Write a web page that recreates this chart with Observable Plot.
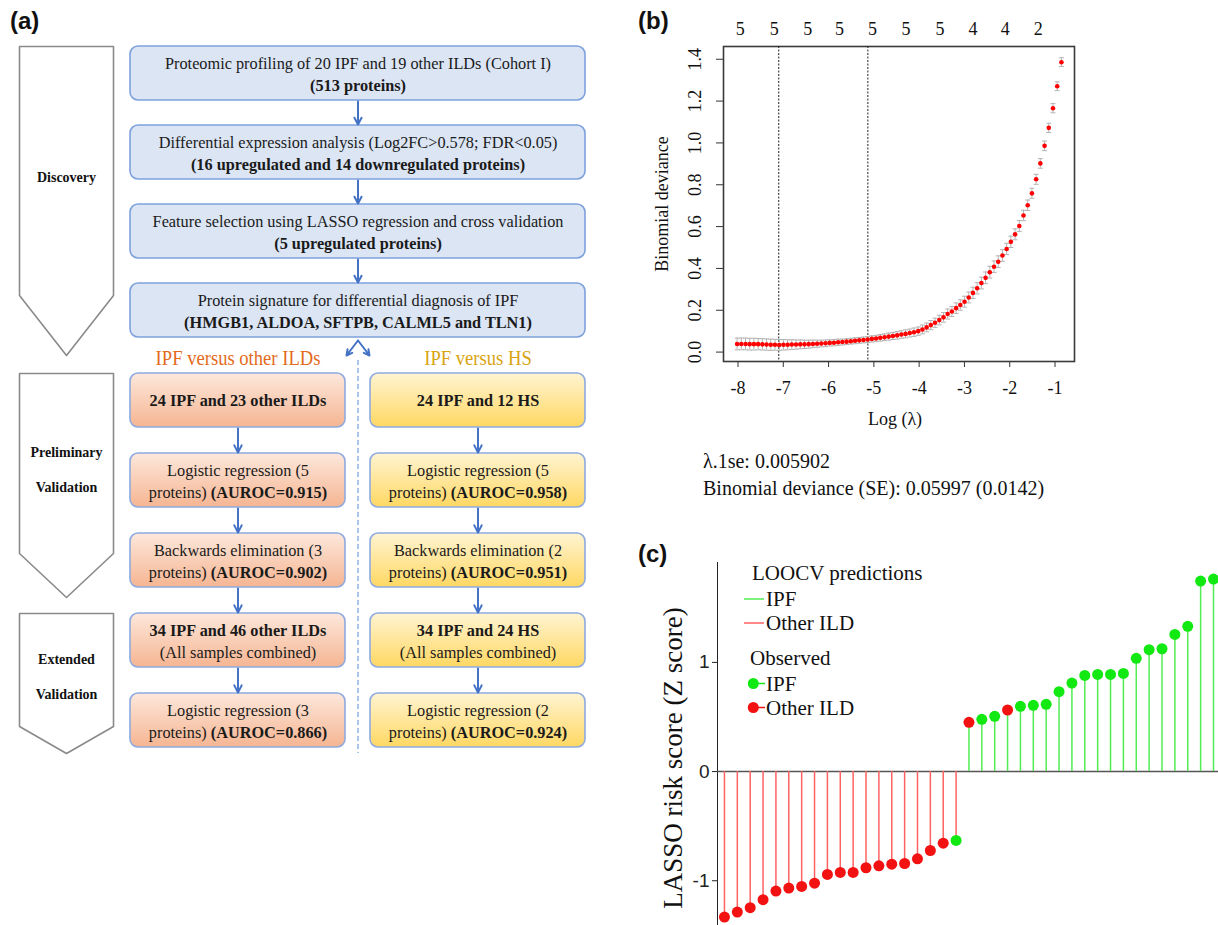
<!DOCTYPE html>
<html>
<head>
<meta charset="utf-8">
<script src="https://cdn.jsdelivr.net/npm/d3@7"></script>
<script src="https://cdn.jsdelivr.net/npm/@observablehq/plot@0.6"></script>
<style>
  html, body { margin: 0; padding: 0; background: #fff; }
  #root { position: relative; width: 1218px; height: 925px; overflow: hidden; background: #fff; }
  .abs { position: absolute; white-space: nowrap; }
  .plab { font-family: "Liberation Sans", Arial, sans-serif; font-weight: bold; font-size: 24px; line-height: 24px; color: #111; }
  .serif20 { font-family: "Liberation Serif", "Times New Roman", serif; font-size: 20px; line-height: 20px; color: #111; }
  .leg { font-family: "Liberation Serif", "Times New Roman", serif; font-size: 21px; line-height: 18px; color: #111; }
  .plotbox { position: absolute; }
  .plotbox svg { background: transparent !important; max-width: none !important; }
</style>
</head>
<body>
<svg width="0" height="0" style="position:absolute">
  <defs>
    <linearGradient id="gOrange" x1="0" y1="0" x2="0" y2="1">
      <stop offset="0" stop-color="#fde8dc"/>
      <stop offset="1" stop-color="#f5b592"/>
    </linearGradient>
    <linearGradient id="gYellow" x1="0" y1="0" x2="0" y2="1">
      <stop offset="0" stop-color="#fff4d2"/>
      <stop offset="1" stop-color="#ffd863"/>
    </linearGradient>
  </defs>
</svg>
<div id="root"></div>
<script>
// ================= Panel (a) data: flowchart content =================
const stageLabels = ["Discovery", "Preliminary\nValidation", "Extended\nValidation"];
const discoverySteps = [
  ["Proteomic profiling of 20 IPF and 19 other ILDs (Cohort I)", "**(513 proteins)**"],
  ["Differential expression analysis (Log2FC>0.578; FDR<0.05)", "**(16 upregulated and 14 downregulated proteins)**"],
  ["Feature selection using LASSO regression and cross validation", "**(5 upregulated proteins)**"],
  ["Protein signature for differential diagnosis of IPF", "**(HMGB1, ALDOA, SFTPB, CALML5 and TLN1)**"]
];
const comparisonTitles = ["IPF versus other ILDs", "IPF versus HS"];
const ildSteps = [
  ["**24 IPF and 23 other ILDs**"],
  ["Logistic regression (5", "proteins) **(AUROC=0.915)**"],
  ["Backwards elimination (3", "proteins) **(AUROC=0.902)**"],
  ["**34 IPF and 46 other ILDs**", "(All samples combined)"],
  ["Logistic regression (3", "proteins) **(AUROC=0.866)**"]
];
const hsSteps = [
  ["**24 IPF and 12 HS**"],
  ["Logistic regression (5", "proteins) **(AUROC=0.958)**"],
  ["Backwards elimination (2", "proteins) **(AUROC=0.951)**"],
  ["**34 IPF and 24 HS**", "(All samples combined)"],
  ["Logistic regression (2", "proteins) **(AUROC=0.924)**"]
];

// ================= Panel (b) data: LASSO cross-validation curve =================
const logLambda = [
  -8.020,-7.927,-7.834,-7.741,-7.648,-7.555,-7.462,-7.369,-7.276,-7.183,
  -7.090,-6.997,-6.904,-6.811,-6.718,-6.625,-6.532,-6.439,-6.346,-6.253,
  -6.160,-6.067,-5.974,-5.881,-5.788,-5.695,-5.602,-5.509,-5.416,-5.323,
  -5.230,-5.137,-5.044,-4.951,-4.858,-4.765,-4.672,-4.579,-4.486,-4.393,
  -4.300,-4.207,-4.114,-4.021,-3.928,-3.835,-3.742,-3.649,-3.556,-3.463,
  -3.370,-3.277,-3.184,-3.091,-2.998,-2.905,-2.812,-2.719,-2.626,-2.533,
  -2.440,-2.347,-2.254,-2.161,-2.068,-1.975,-1.882,-1.789,-1.696,-1.603,
  -1.510,-1.417,-1.324,-1.231,-1.138,-1.045,-0.952,-0.859
];
const binomialDeviance = [
  0.039,0.039,0.039,0.038,0.038,0.038,0.037,0.036,0.035,0.035,
  0.034,0.035,0.035,0.036,0.036,0.037,0.037,0.038,0.039,0.040,
  0.041,0.042,0.044,0.045,0.047,0.048,0.050,0.052,0.054,0.056,
  0.058,0.060,0.063,0.065,0.068,0.071,0.074,0.077,0.080,0.084,
  0.087,0.091,0.095,0.100,0.108,0.118,0.129,0.140,0.153,0.166,
  0.182,0.194,0.210,0.225,0.241,0.261,0.283,0.305,0.330,0.355,
  0.382,0.408,0.432,0.462,0.493,0.527,0.563,0.603,0.653,0.702,
  0.759,0.826,0.902,0.986,1.072,1.166,1.271,1.386
];
const devianceSE = [
  0.028,0.028,0.028,0.028,0.028,0.027,0.027,0.027,0.027,0.026,
  0.026,0.025,0.024,0.023,0.022,0.021,0.020,0.019,0.018,0.017,
  0.016,0.016,0.015,0.015,0.015,0.014,0.014,0.014,0.014,0.014,
  0.014,0.0142,0.015,0.015,0.016,0.016,0.017,0.017,0.018,0.018,
  0.019,0.019,0.020,0.020,0.021,0.021,0.022,0.022,0.023,0.023,
  0.024,0.024,0.025,0.025,0.026,0.026,0.027,0.027,0.028,0.028,
  0.028,0.028,0.028,0.028,0.027,0.027,0.026,0.026,0.025,0.025,
  0.024,0.024,0.023,0.023,0.022,0.022,0.021,0.021
];
const xTicksB = [-8, -7, -6, -5, -4, -3, -2, -1];
const yTicksB = [0.0, 0.2, 0.4, 0.6, 0.8, 1.0, 1.2, 1.4];
const nonzeroPos = [-7.95, -7.20, -6.46, -5.76, -5.03, -4.29, -3.54, -2.81, -2.10, -1.37];
const nonzeroCount = [5, 5, 5, 5, 5, 5, 5, 4, 4, 2];
const lambdaMinLog = -7.10;
const lambda1se = 0.005902;
const lambdaText = ["λ.1se: 0.005902", "Binomial deviance (SE): 0.05997 (0.0142)"];

// ================= Panel (c) data: LOOCV risk scores =================
const riskScore = [
  -1.333,-1.287,-1.247,-1.174,-1.095,-1.067,-1.052,-1.022,-0.942,-0.924,
  -0.924,-0.881,-0.863,-0.848,-0.842,-0.799,-0.723,-0.656,-0.631,
   0.451, 0.479, 0.506, 0.564, 0.598, 0.607, 0.616, 0.732, 0.811, 0.881,
   0.890, 0.890, 0.899, 1.037, 1.116, 1.125, 1.256, 1.330, 1.745, 1.763
];
const observedClass = [
  "Other ILD","Other ILD","Other ILD","Other ILD","Other ILD","Other ILD","Other ILD","Other ILD","Other ILD","Other ILD",
  "Other ILD","Other ILD","Other ILD","Other ILD","Other ILD","Other ILD","Other ILD","Other ILD","IPF",
  "Other ILD","IPF","IPF","Other ILD","IPF","IPF","IPF","IPF","IPF","IPF",
  "IPF","IPF","IPF","IPF","IPF","IPF","IPF","IPF","IPF","IPF"
];
const yTicksC = [-1, 0, 1];
const classColors = {"IPF": "#12e812", "Other ILD": "#f31212"};
const stemColors = {"IPF": "#52ec52", "Other ILD": "#ff6262"};

// ================= helpers =================
const SERIF = "'Liberation Serif', 'Times New Roman', serif";
const SANS = "'Liberation Sans', Arial, sans-serif";
const root = document.getElementById("root");
function place(node, left, top) {
  const d = document.createElement("div");
  d.className = "plotbox";
  d.style.left = left + "px";
  d.style.top = top + "px";
  d.appendChild(node);
  root.appendChild(d);
  return d;
}
function addText(txt, cls, left, top) {
  const d = document.createElement("div");
  d.className = "abs " + cls;
  d.style.left = left + "px";
  d.style.top = top + "px";
  d.textContent = txt;
  root.appendChild(d);
  return d;
}
function richify(svg) {
  svg.querySelectorAll("text").forEach(el => {
    if (el.querySelector("tspan")) return;
    const s = el.textContent;
    if (!s.includes("**")) return;
    el.textContent = "";
    s.split("**").forEach((part, k) => {
      if (!part) return;
      const ts = document.createElementNS("http://www.w3.org/2000/svg", "tspan");
      if (k % 2 === 1) ts.setAttribute("font-weight", "bold");
      ts.textContent = part;
      el.appendChild(ts);
    });
  });
}
// horizontally condense texts (the original figure uses a narrow serif face); must run once in the DOM
function condense(svg, sx, skip) {
  svg.querySelectorAll("text").forEach(el => {
    if (skip.has(el.textContent)) return;
    const len = el.getComputedTextLength();
    if (!(len > 0)) return;
    el.setAttribute("textLength", (len * sx).toFixed(2));
    el.setAttribute("lengthAdjust", "spacingAndGlyphs");
  });
}

// ================= Panel (a): flowchart =================
const LA = {
  W: 640, H: 800,
  blueX: [130, 585], cols: [[130, 345], [370, 585]],
  blueTop: 46, blueStep: 79, colTop: 373, colStep: 80, boxH: 54,
  chevX: [19, 113],
  stages: [{top: 46, side: 295, tip: 355}, {top: 373, side: 553, tip: 597}, {top: 613, side: 726, tip: 753}],
  headerY: 358, splitTop: 340, splitBottom: 355, splitDx: 11.5, dashTop: 360, dashBottom: 753
};
const mid = a => (a[0] + a[1]) / 2;
const lineOffsets = n => n === 1 ? [0] : [-10.5, 11.5];

const blueBoxes = discoverySteps.map((lines, i) => ({
  x1: LA.blueX[0], x2: LA.blueX[1], y1: LA.blueTop + i * LA.blueStep, y2: LA.blueTop + i * LA.blueStep + LA.boxH, lines
}));
const colBoxes = [ildSteps, hsSteps].flatMap((steps, c) => steps.map((lines, j) => ({
  c, x1: LA.cols[c][0], x2: LA.cols[c][1], y1: LA.colTop + j * LA.colStep, y2: LA.colTop + j * LA.colStep + LA.boxH, lines
})));
const boxTexts = [...blueBoxes, ...colBoxes].flatMap(b => {
  const offs = lineOffsets(b.lines.length);
  const cy = (b.y1 + b.y2) / 2;
  return b.lines.map((t, k) => ({x: (b.x1 + b.x2) / 2, y: cy + offs[k], t}));
});
const arrowsA = [];
for (let i = 0; i < blueBoxes.length - 1; i++) {
  arrowsA.push({x1: mid(LA.blueX), y1: blueBoxes[i].y2 + 1, x2: mid(LA.blueX), y2: blueBoxes[i + 1].y1 - 1});
}
for (let c = 0; c < 2; c++) {
  const bs = colBoxes.filter(b => b.c === c);
  for (let j = 0; j < bs.length - 1; j++) {
    arrowsA.push({x1: mid(LA.cols[c]), y1: bs[j].y2 + 1, x2: mid(LA.cols[c]), y2: bs[j + 1].y1 - 1});
  }
}
arrowsA.push({x1: mid(LA.blueX), y1: LA.splitTop, x2: mid(LA.blueX) - LA.splitDx, y2: LA.splitBottom});
arrowsA.push({x1: mid(LA.blueX), y1: LA.splitTop, x2: mid(LA.blueX) + LA.splitDx, y2: LA.splitBottom});

const chevronPts = LA.stages.flatMap((s, k) => {
  const [a, b] = LA.chevX, m = (a + b) / 2;
  return [[a, s.top], [b, s.top], [b, s.side], [m, s.tip], [a, s.side], [a, s.top]].map(([x, y]) => ({x, y, k}));
});
const stageTexts = stageLabels.map((t, k) => ({t, x: mid(LA.chevX), y: (LA.stages[k].top + LA.stages[k].side) / 2}));

const plotA = Plot.plot({
  width: LA.W, height: LA.H, margin: 0,
  x: {domain: [0, LA.W], range: [0, LA.W], axis: null},
  y: {domain: [0, LA.H], range: [0, LA.H], axis: null},
  style: {fontFamily: SERIF, fontSize: "17.5px", color: "#1a1a1a", background: "transparent", overflow: "visible"},
  marks: [
    Plot.line(chevronPts, {x: "x", y: "y", z: "k", fill: "white", stroke: "#8a8a8a", strokeWidth: 1.6, curve: "linear"}),
    Plot.text(stageTexts, {x: "x", y: "y", text: "t", fontSize: 14, fontWeight: "bold", lineHeight: 2.5, fill: "#111", fontFamily: SERIF, textAnchor: "middle", lineAnchor: "middle"}),
    Plot.ruleX([0], {x: () => mid(LA.blueX), y1: () => LA.dashTop, y2: () => LA.dashBottom, stroke: "#5b8bd8", strokeWidth: 1, strokeDasharray: "5,3"}),
    Plot.rect(blueBoxes, {x1: "x1", x2: "x2", y1: "y1", y2: "y2", rx: 8, fill: "#dbe5f4", stroke: "#7ea1dc", strokeWidth: 1.6}),
    Plot.rect(colBoxes.filter(b => b.c === 0), {x1: "x1", x2: "x2", y1: "y1", y2: "y2", rx: 8, fill: "url(#gOrange)", stroke: "#8eaadf", strokeWidth: 1.6}),
    Plot.rect(colBoxes.filter(b => b.c === 1), {x1: "x1", x2: "x2", y1: "y1", y2: "y2", rx: 8, fill: "url(#gYellow)", stroke: "#8eaadf", strokeWidth: 1.6}),
    Plot.arrow(arrowsA, {x1: "x1", y1: "y1", x2: "x2", y2: "y2", stroke: "#4472c4", strokeWidth: 2, headLength: 8, headAngle: 55}),
    Plot.text([comparisonTitles[0]], {x: () => mid(LA.cols[0]), y: () => LA.headerY, text: d => d, fill: "#e36a1c", fontSize: 20, fontFamily: SERIF, textAnchor: "middle", lineAnchor: "middle"}),
    Plot.text([comparisonTitles[1]], {x: () => mid(LA.cols[1]), y: () => LA.headerY, text: d => d, fill: "#d9a411", fontSize: 20, fontFamily: SERIF, textAnchor: "middle", lineAnchor: "middle"}),
    Plot.text(boxTexts, {x: "x", y: "y", text: "t", fill: "#1a1a1a", fontSize: 17.5, fontFamily: SERIF, textAnchor: "middle", lineAnchor: "middle"})
  ]
});
richify(plotA);
place(plotA, 0, 0);
condense(plotA, 0.93, new Set(stageLabels.map(s => s.replace("\n", ""))));

// ================= Panel (b): LASSO CV plot =================
const cv = logLambda.map((x, i) => ({x, y: binomialDeviance[i], se: devianceSE[i]}));
const capHalf = 0.055;
const tb = {fill: "#111", fontSize: 18, fontFamily: SERIF, textAnchor: "middle", lineAnchor: "middle"};
const plotB = Plot.plot({
  width: 440, height: 440,
  marginLeft: 83, marginRight: 6, marginTop: 46, marginBottom: 79,
  x: {domain: [-8.32, -0.57], ticks: xTicksB, tickSize: 6, tickFormat: () => "", label: null},
  y: {domain: [-0.045, 1.461], ticks: yTicksB, tickSize: 7, tickFormat: () => "", label: null},
  style: {fontFamily: SERIF, fontSize: "18px", color: "#333", background: "transparent", overflow: "visible"},
  marks: [
    Plot.frame({stroke: "#3a3a3a", strokeWidth: 1.6}),
    Plot.ruleX([lambdaMinLog, Math.log(lambda1se)], {stroke: "#222", strokeWidth: 1, strokeDasharray: "2,1.5"}),
    Plot.ruleX(cv, {x: "x", y1: d => d.y - d.se, y2: d => d.y + d.se, stroke: "#b3b3b3", strokeWidth: 1}),
    Plot.link(cv, {x1: d => d.x - capHalf, x2: d => d.x + capHalf, y1: d => d.y + d.se, y2: d => d.y + d.se, stroke: "#b3b3b3", strokeWidth: 1}),
    Plot.link(cv, {x1: d => d.x - capHalf, x2: d => d.x + capHalf, y1: d => d.y - d.se, y2: d => d.y - d.se, stroke: "#b3b3b3", strokeWidth: 1}),
    Plot.dot(cv, {x: "x", y: "y", r: 2.3, fill: "#ff0000"}),
    Plot.text(xTicksB, {x: d => d, frameAnchor: "bottom", dy: 27, text: d => String(d), ...tb}),
    Plot.text(yTicksB, {y: d => d, frameAnchor: "left", dx: -28, rotate: -90, text: d => d.toFixed(1), ...tb}),
    Plot.text(nonzeroPos, {x: d => d, frameAnchor: "top", dy: -17.5, text: (d, i) => String(nonzeroCount[i]), ...tb}),
    Plot.text(["Binomial deviance"], {frameAnchor: "left", dx: -61, rotate: -90, text: d => d, ...tb}),
    Plot.text(["Log (λ)"], {frameAnchor: "bottom", dy: 58, dx: -4, text: d => d, ...tb})
  ]
});
place(plotB, 640, 0);
addText(lambdaText[0], "serif20", 703, 451);
addText(lambdaText[1], "serif20", 703, 478);

// ================= Panel (c): LOOCV lollipop =================
const samples = riskScore.map((score, i) => ({i, score, observed: observedClass[i], predicted: score > 0 ? "IPF" : "Other ILD"}));
const plotC = Plot.plot({
  width: 578, height: 385,
  marginLeft: 77, marginRight: 0, marginTop: 22, marginBottom: 0,
  x: {domain: [-0.54, 38.39], axis: null},
  y: {domain: [-1.41, 1.915], ticks: yTicksC, tickSize: 5, tickPadding: 3, line: true, label: null, tickFormat: d => String(d)},
  style: {fontFamily: SANS, fontSize: "19px", color: "#222", background: "transparent", overflow: "visible"},
  marks: [
    Plot.ruleY([0], {stroke: "#555", strokeWidth: 1.5}),
    Plot.ruleX(samples, {filter: d => d.predicted === "IPF", x: "i", y1: () => 0, y2: "score", stroke: stemColors["IPF"], strokeWidth: 1.5}),
    Plot.ruleX(samples, {filter: d => d.predicted === "Other ILD", x: "i", y1: () => 0, y2: "score", stroke: stemColors["Other ILD"], strokeWidth: 1.5}),
    Plot.dot(samples, {filter: d => d.observed === "IPF", x: "i", y: "score", r: 5.5, fill: classColors["IPF"]}),
    Plot.dot(samples, {filter: d => d.observed === "Other ILD", x: "i", y: "score", r: 5.5, fill: classColors["Other ILD"]}),
    Plot.text(["LASSO risk score (Z score)"], {frameAnchor: "left", dx: -44, dy: 14, rotate: -90, text: d => d, fill: "#111", fontSize: 27, fontFamily: SERIF, textAnchor: "middle", lineAnchor: "middle"})
  ]
});
place(plotC, 640, 540);

// legend for (c)
addText("LOOCV predictions", "leg", 752, 564);
addText("IPF", "leg", 766, 590);
addText("Other ILD", "leg", 766, 614);
addText("Observed", "leg", 750, 649);
addText("IPF", "leg", 766, 674.5);
addText("Other ILD", "leg", 766, 698.5);
const legSvg = d3.create("svg").attr("width", 40).attr("height", 130)
  .style("position", "absolute").style("left", "738px").style("top", "590px").style("overflow", "visible");
legSvg.append("line").attr("x1", 6).attr("x2", 26).attr("y1", 9).attr("y2", 9).attr("stroke", stemColors["IPF"]).attr("stroke-width", 1.5);
legSvg.append("line").attr("x1", 6).attr("x2", 26).attr("y1", 33).attr("y2", 33).attr("stroke", stemColors["Other ILD"]).attr("stroke-width", 1.5);
legSvg.append("line").attr("x1", 15).attr("x2", 27).attr("y1", 93.5).attr("y2", 93.5).attr("stroke", classColors["IPF"]).attr("stroke-width", 1.5);
legSvg.append("circle").attr("cx", 15.3).attr("cy", 93.5).attr("r", 5.5).attr("fill", classColors["IPF"]);
legSvg.append("line").attr("x1", 15).attr("x2", 27).attr("y1", 117.5).attr("y2", 117.5).attr("stroke", classColors["Other ILD"]).attr("stroke-width", 1.5);
legSvg.append("circle").attr("cx", 15.3).attr("cy", 117.5).attr("r", 5.5).attr("fill", classColors["Other ILD"]);
root.appendChild(legSvg.node());

// panel labels
addText("(a)", "plab", 10, 9);
addText("(b)", "plab", 638, 9);
addText("(c)", "plab", 638, 542);
</script>
</body>
</html>
